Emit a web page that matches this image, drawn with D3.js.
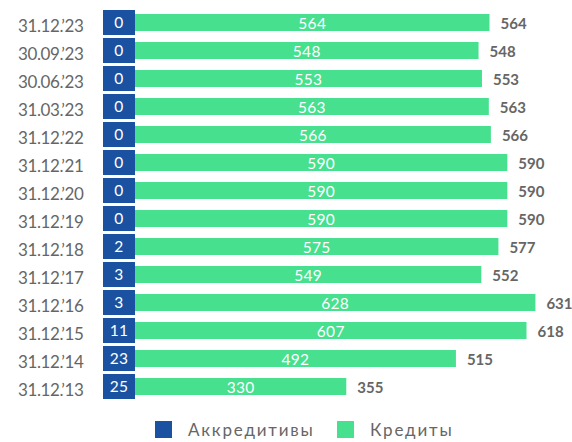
<!DOCTYPE html>
<html>
<head>
<meta charset="utf-8">
<script src="https://cdn.jsdelivr.net/npm/d3@7"></script>
<style>
  html, body { margin: 0; padding: 0; background: #fff; }
  svg { display: block; }
  text { font-family: Lato, "Open Sans", sans-serif; }
</style>
</head>
<body>
<svg id="chart" width="572" height="442"></svg>
<script>
// Reporting dates, top to bottom
const dates = ["31.12.’23", "30.09.’23", "30.06.’23", "31.03.’23", "31.12.’22", "31.12.’21",
  "31.12.’20", "31.12.’19", "31.12.’18", "31.12.’17", "31.12.’16", "31.12.’15", "31.12.’14", "31.12.’13"];
// Letters of credit
const letters = [0, 0, 0, 0, 0, 0, 0, 0, 2, 3, 3, 11, 23, 25];
// Loans
const loans = [564, 548, 553, 563, 566, 590, 590, 590, 575, 549, 628, 607, 492, 330];
// Totals shown at bar ends
const totals = [564, 548, 553, 563, 566, 590, 590, 590, 577, 552, 631, 618, 515, 355];
const seriesNames = ["Аккредитивы", "Кредиты"];

const BLUE = "#1a52a1";
const GREEN = "#47e08e";
const GREY = "#666666";

const svg = d3.select("#chart");

const x = d3.scaleLinear().domain([0, 680]).range([103, 569]);
const y = d3.scaleBand().domain(dates).range([10, 399]).paddingInner(3 / 28).paddingOuter(0);

const boxW = 32;     // fixed-width badge for letters of credit
const barH = 17;

const rows = dates.map((d, i) => ({ date: d, lc: letters[i], loan: loans[i], total: totals[i] }));
const mid = d => y(d.date) + y.bandwidth() / 2;

// Category labels
svg.append("g").selectAll("text").data(rows).join("text")
  .attr("x", 18)
  .attr("y", d => mid(d) + 9)
  .attr("fill", GREY)
  .attr("font-size", 17)
  .attr("letter-spacing", -0.4)
  .text(d => d.date);

// Loan bars
const gBars = svg.append("g");
gBars.selectAll("rect").data(rows).join("rect")
  .attr("x", x(0) + boxW)
  .attr("y", d => mid(d) - barH / 2)
  .attr("width", d => x(d.total) - x(0) - boxW)
  .attr("height", barH)
  .attr("fill", GREEN);

gBars.selectAll("text").data(rows).join("text")
  .attr("x", d => (x(0) + boxW + x(d.total)) / 2)
  .attr("y", d => mid(d) + 6.5)
  .attr("text-anchor", "middle")
  .attr("fill", "#fff")
  .attr("font-size", 15.5)
  .attr("letter-spacing", 0.3)
  .text(d => d.loan);

// Letters-of-credit badges
const gBox = svg.append("g");
gBox.selectAll("rect").data(rows).join("rect")
  .attr("x", x(0))
  .attr("y", d => y(d.date))
  .attr("width", boxW)
  .attr("height", y.bandwidth())
  .attr("fill", BLUE);

gBox.selectAll("text").data(rows).join("text")
  .attr("x", x(0) + boxW / 2)
  .attr("y", d => mid(d) + 5)
  .attr("text-anchor", "middle")
  .attr("fill", "#fff")
  .attr("font-size", 15.5)
  .attr("letter-spacing", 0.3)
  .text(d => d.lc);

// Totals
svg.append("g").selectAll("text").data(rows).join("text")
  .attr("x", d => x(d.total) + 11)
  .attr("y", d => mid(d) + 6)
  .attr("fill", GREY)
  .attr("font-size", 15)
  .attr("font-weight", 700)
  .text(d => d.total);

// Legend
const legend = svg.append("g");
const legendX = [155, 337];
const colors = [BLUE, GREEN];
seriesNames.forEach((name, i) => {
  legend.append("rect")
    .attr("x", legendX[i]).attr("y", 421)
    .attr("width", 17).attr("height", 17)
    .attr("fill", colors[i]);
  legend.append("text")
    .attr("x", legendX[i] + 33).attr("y", 436)
    .attr("fill", GREY)
    .attr("font-size", 17)
    .attr("letter-spacing", 1.8)
    .text(name);
});
</script>
</body>
</html>
